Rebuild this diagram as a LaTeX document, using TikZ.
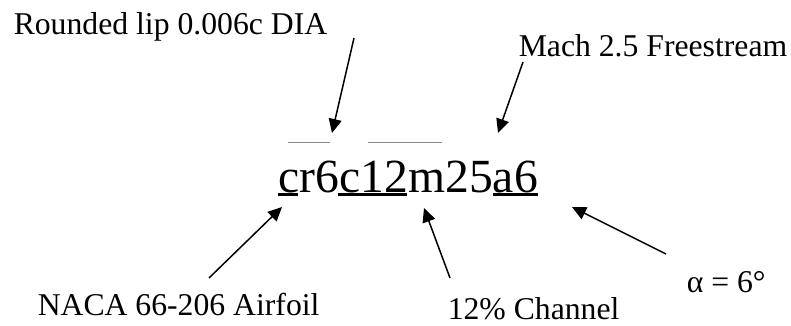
\documentclass[tikz,border=0pt]{standalone}
\usepackage{fontspec}
\setmainfont{Liberation Serif}
\usetikzlibrary{arrows.meta, positioning}
\definecolor{cgrey}{HTML}{8A8A8A}
\tikzset{
  every picture/.style={x=1pt, y=-1pt, line width=1.5pt},
  label/.style={font=\fontsize{31.7}{38}\selectfont, anchor=base west, inner sep=0pt},
  code/.style={font=\fontsize{47.6}{56}\selectfont, anchor=base west, inner sep=0pt},
  arrow/.style={-{Triangle[length=14pt, width=13pt]}, draw=black, line width=1.5pt},
  uline/.style={draw=black, line width=3pt},
  oline/.style={draw=cgrey, line width=1pt},
}

\begin{document}
\begin{tikzpicture}
  \useasboundingbox (0,0) rectangle (791,326);
  % case name
  \node[code] (name) at (278,192) {cr6c12m25a6};
  \draw[uline] (278,194.5) -- (298,194.5);
  \draw[uline] (338,194.5) -- (407,194.5);
  \draw[uline] (493,194.5) -- (538,194.5);
  \draw[oline] (288,142) -- (330,142);
  \draw[oline] (368,142) -- (442,142);
  % labels
  \node[label] (lip) at (13,35) {Rounded lip 0.006c DIA};
  \node[label] (mach) at (518,57) {Mach 2.5 Freestream};
  \node[label] (naca) at (37,315) {NACA 66-206 Airfoil};
  \node[label] (chan) at (447,319) {12\% Channel};
  \node[label] (alpha) at (686,292) {α = 6°};
  % arrow ends
  \coordinate (lipTail) at (354,38);   \coordinate (lipTip) at (332,133);
  \coordinate (machTail) at (523,62);  \coordinate (machTip) at (498,133);
  \coordinate (nacaTail) at (209,278); \coordinate (nacaTip) at (282,207);
  \coordinate (chanTail) at (450,278); \coordinate (chanTip) at (424,208);
  \coordinate (alphaTail) at (666,254); \coordinate (alphaTip) at (572,207);
  \foreach \a in {lip, mach, naca, chan, alpha} {\draw[arrow] (\a Tail) -- (\a Tip);}
\end{tikzpicture}
\end{document}
